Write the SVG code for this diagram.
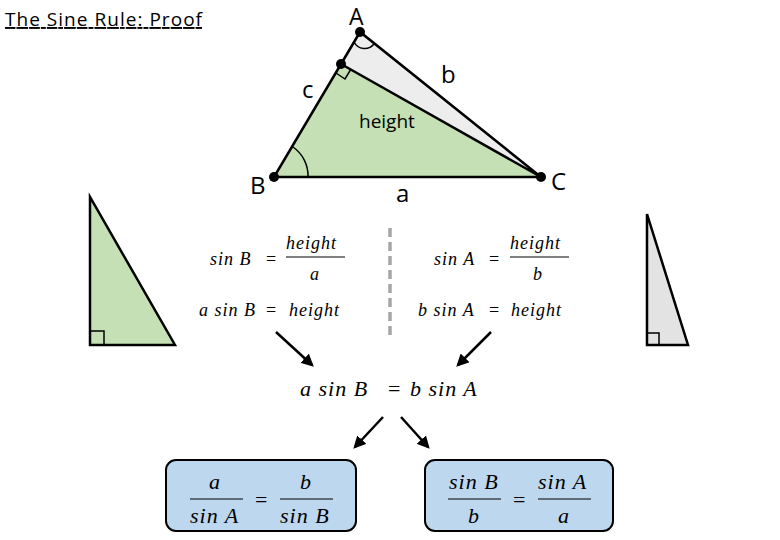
<svg xmlns="http://www.w3.org/2000/svg" width="780" height="540" viewBox="0 0 780 540">
<style>
.t{font-family:"Open Sans","Liberation Sans",sans-serif;fill:#000}
.m{font-family:"Liberation Serif",serif;font-style:italic;fill:#000;letter-spacing:1px}
.ln{stroke:#000;stroke-width:2.5;fill:none}
.th{stroke:#000;stroke-width:1.5;fill:none}
.box{fill:#bdd7ee;stroke:#000;stroke-width:2}
</style>
<defs><marker id="ah" viewBox="0 0 10 10" refX="8" refY="5" markerWidth="5" markerHeight="5" orient="auto"><path d="M0,0L10,5L0,10z" fill="#000"/></marker></defs>
<rect width="780" height="540" fill="#fff"/>
<text class="t" x="5" y="26" font-size="19" textLength="197" text-decoration="underline">The Sine Rule: Proof</text>
<g id="triangle">
<polygon points="360,32 341,64 541,177" fill="#ededed"/>
<polygon points="341,64 274,177 541,177" fill="#c5e0b4"/>
<path class="ln" d="M360,32 L274,177 L541,177 Z M341,64 L541,177"/>
<path class="th" d="M336,73 L345,79 L351,69"/>
<path class="th" d="M354,42 A12,12 0 0 0 374,44"/>
<path class="th" d="M293,147 A35,35 0 0 1 308,177"/>
<circle cx="360" cy="32" r="5"/><circle cx="341" cy="64" r="5"/><circle cx="274" cy="177" r="5"/><circle cx="541" cy="177" r="5"/>
<text class="t" x="349" y="25" font-size="23">A</text>
<text class="t" x="441" y="83" font-size="24">b</text>
<text class="t" x="302" y="98" font-size="24">c</text>
<text class="t" x="359" y="128" font-size="19">height</text>
<text class="t" x="250" y="194" font-size="24">B</text>
<text class="t" x="551" y="190" font-size="24">C</text>
<text class="t" x="396" y="202" font-size="24">a</text>
</g>
<g id="left-triangle">
<polygon points="90,197 90,345 175,345" fill="#c5e0b4" stroke="#000" stroke-width="2.5"/>
<rect x="90" y="331" width="14" height="14" class="th"/>
</g>
<g id="right-triangle">
<polygon points="647,214 647,345 688,345" fill="#e3e3e3" stroke="#000" stroke-width="2.5"/>
<rect x="647" y="333" width="12" height="12" class="th"/>
</g>
<line x1="390" y1="228" x2="390" y2="340" stroke="#a6a6a6" stroke-width="3.5" stroke-dasharray="9,5"/>
<g id="left-eq" class="m" font-size="18">
<text x="210" y="265">sin B</text><text x="266" y="265" font-style="normal">=</text>
<text x="286" y="249">height</text><line x1="286" y1="257" x2="345" y2="257" stroke="#000"/><text x="310" y="280">a</text>
<text x="199" y="316">a sin B</text><text x="266" y="316" font-style="normal">=</text><text x="289" y="316">height</text>
</g>
<g id="right-eq" class="m" font-size="18">
<text x="434" y="265">sin A</text><text x="489" y="265" font-style="normal">=</text>
<text x="510" y="249">height</text><line x1="510" y1="257" x2="569" y2="257" stroke="#000"/><text x="533" y="280">b</text>
<text x="418" y="316">b sin A</text><text x="489" y="316" font-style="normal">=</text><text x="511" y="316">height</text>
</g>
<g id="mid-eq" class="m" font-size="22"><text x="300" y="396">a sin B</text><text x="388" y="396" font-style="normal">=</text><text x="410" y="396">b sin A</text></g>
<g id="connectors" stroke="#000" stroke-width="2.5" marker-end="url(#ah)">
<line x1="276" y1="332" x2="312" y2="365"/>
<line x1="491" y1="332" x2="458" y2="365"/>
<line x1="383" y1="417" x2="355" y2="447"/>
<line x1="401" y1="417" x2="428" y2="447"/>
</g>
<g id="box-left">
<rect class="box" x="166" y="460" width="190" height="71" rx="10"/>
<g class="m" font-size="22"><text x="209" y="489">a</text><line x1="190" y1="499" x2="243" y2="499" stroke="#000"/><text x="190" y="523">sin A</text>
<text x="255" y="507" font-style="normal">=</text>
<text x="300" y="489">b</text><line x1="280" y1="499" x2="333" y2="499" stroke="#000"/><text x="280" y="523">sin B</text></g>
</g>
<g id="box-right">
<rect class="box" x="425" y="460" width="188" height="71" rx="10"/>
<g class="m" font-size="22"><text x="449" y="489">sin B</text><line x1="448" y1="499" x2="501" y2="499" stroke="#000"/><text x="468" y="523">b</text>
<text x="513" y="507" font-style="normal">=</text>
<text x="538" y="489">sin A</text><line x1="538" y1="499" x2="591" y2="499" stroke="#000"/><text x="558" y="523">a</text></g>
</g>
</svg>
